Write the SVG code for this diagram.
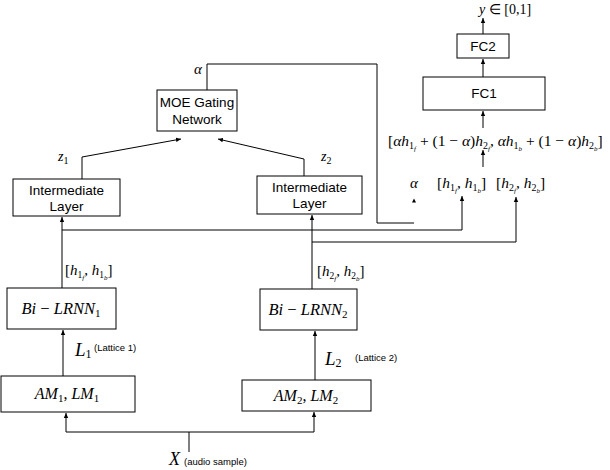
<svg xmlns="http://www.w3.org/2000/svg" width="610" height="470" viewBox="0 0 610 470">
<defs>
<marker id="ah" markerWidth="6" markerHeight="6" refX="5" refY="3" orient="auto" markerUnits="userSpaceOnUse">
<path d="M0,0.8 L5,3 L0,5.2 Z" fill="#000"/>
</marker>
<style>
.box{fill:#fff;stroke:#000;stroke-width:1}
.ln{fill:none;stroke:#000;stroke-width:1}
.sans{font-family:"Liberation Sans",Arial,sans-serif;font-size:13.5px;fill:#000}
.small{font-family:"Liberation Sans",Arial,sans-serif;font-size:9.5px;fill:#000}
.m{font-family:"Liberation Serif","Times New Roman",serif;font-style:italic;fill:#000}
.r{font-style:normal}
</style>
</defs>
<rect width="610" height="470" fill="#fff"/>

<g id="connectors">
<path class="ln" d="M189,452 V432"/>
<path class="ln" d="M66,432 H314"/>
<path class="ln" d="M66,432 V413" marker-end="url(#ah)"/>
<path class="ln" d="M314,432 V412" marker-end="url(#ah)"/>
<path class="ln" d="M63,376 V330" marker-end="url(#ah)"/>
<path class="ln" d="M315,380 V331" marker-end="url(#ah)"/>
<path class="ln" d="M62,288 V217" marker-end="url(#ah)"/>
<path class="ln" d="M312,289 V215" marker-end="url(#ah)"/>
<path class="ln" d="M62,230 H462 V196" marker-end="url(#ah)"/>
<path class="ln" d="M312,242 H516 V197" marker-end="url(#ah)"/>
<path class="ln" d="M82,179 V157 L181,139" marker-end="url(#ah)"/>
<path class="ln" d="M304,176 V159 L218,139" marker-end="url(#ah)"/>
<path class="ln" d="M207,90 V64 H377 V223 H414"/>
<path d="M412,202.5 L414,198.5 L416,202.5 Z" fill="#000"/>
<path class="ln" d="M483,167 V150" marker-end="url(#ah)"/>
<path class="ln" d="M483,128 V111" marker-end="url(#ah)"/>
<path class="ln" d="M483,77 V59" marker-end="url(#ah)"/>
<path class="ln" d="M483,34 V18" marker-end="url(#ah)"/>
</g>

<g id="moe">
<rect class="box" x="157" y="90" width="80" height="41"/>
<text class="sans" x="197" y="107" text-anchor="middle">MOE Gating</text>
<text class="sans" x="197" y="124" text-anchor="middle">Network</text>
</g>
<g id="alpha-label"><text class="m" x="194" y="74" font-size="15">α</text></g>

<g id="il1">
<rect class="box" x="13" y="179" width="107" height="37"/>
<text class="sans" x="66.5" y="195" text-anchor="middle">Intermediate</text>
<text class="sans" x="66.5" y="211" text-anchor="middle">Layer</text>
</g>
<g id="il2">
<rect class="box" x="257" y="176" width="105" height="38"/>
<text class="sans" x="309.5" y="192" text-anchor="middle">Intermediate</text>
<text class="sans" x="309.5" y="208" text-anchor="middle">Layer</text>
</g>
<g id="z1"><text class="m" x="58" y="161" font-size="14">z<tspan font-size="10" dy="3" class="r">1</tspan></text></g>
<g id="z2"><text class="m" x="321" y="161" font-size="14">z<tspan font-size="10" dy="3" class="r">2</tspan></text></g>

<g id="bilrnn1">
<rect class="box" x="7" y="288" width="109" height="41"/>
<text class="m" x="61" y="314" font-size="16.5" text-anchor="middle">Bi <tspan class="r">−</tspan> LRNN<tspan font-size="11" dy="3" class="r">1</tspan></text>
</g>
<g id="bilrnn2">
<rect class="box" x="260" y="289" width="97" height="41"/>
<text class="m" x="308" y="315" font-size="16.5" text-anchor="middle">Bi <tspan class="r">−</tspan> LRNN<tspan font-size="11" dy="3" class="r">2</tspan></text>
</g>
<g id="h1-left"><text class="m" x="65" y="275" font-size="15"><tspan class="r">[</tspan>h<tspan font-size="9.5" dy="3" class="r">1</tspan><tspan font-size="7" dy="2">f</tspan><tspan dy="-5" class="r">, </tspan>h<tspan font-size="9.5" dy="3" class="r">1</tspan><tspan font-size="7" dy="2">b</tspan><tspan dy="-5" class="r">]</tspan></text></g>
<g id="h2-left"><text class="m" x="317" y="276" font-size="15"><tspan class="r">[</tspan>h<tspan font-size="9.5" dy="3" class="r">2</tspan><tspan font-size="7" dy="2">f</tspan><tspan dy="-5" class="r">, </tspan>h<tspan font-size="9.5" dy="3" class="r">2</tspan><tspan font-size="7" dy="2">b</tspan><tspan dy="-5" class="r">]</tspan></text></g>

<g id="am1">
<rect class="box" x="1" y="376" width="134" height="36"/>
<text class="m" x="67" y="399" font-size="16" text-anchor="middle">AM<tspan font-size="11" dy="3" class="r">1</tspan><tspan dy="-3" class="r">, </tspan>LM<tspan font-size="11" dy="3" class="r">1</tspan></text>
</g>
<g id="am2">
<rect class="box" x="242" y="380" width="129" height="31"/>
<text class="m" x="306" y="401" font-size="16" text-anchor="middle">AM<tspan font-size="11" dy="3" class="r">2</tspan><tspan dy="-3" class="r">, </tspan>LM<tspan font-size="11" dy="3" class="r">2</tspan></text>
</g>
<g id="l1"><text class="m" x="75" y="356" font-size="19">L<tspan font-size="12" dy="2" class="r">1</tspan></text><text class="small" x="94" y="351">(Lattice 1)</text></g>
<g id="l2"><text class="m" x="325" y="365" font-size="19">L<tspan font-size="12" dy="2" class="r">2</tspan></text><text class="small" x="355" y="361">(Lattice 2)</text></g>
<g id="x"><text class="m" x="169" y="465" font-size="18">X</text><text class="small" x="184" y="465">(audio sample)</text></g>

<g id="fc2">
<rect class="box" x="457" y="34" width="52" height="24"/>
<text class="sans" x="483" y="51" text-anchor="middle">FC2</text>
</g>
<g id="fc1">
<rect class="box" x="423" y="77" width="122" height="33"/>
<text class="sans" x="484" y="98" text-anchor="middle">FC1</text>
</g>
<g id="y-out"><text class="m" x="479" y="14" font-size="14">y <tspan class="r">∈ [0,1]</tspan></text></g>
<g id="formula"><text class="m" x="388" y="146" font-size="15.5"><tspan class="r">[</tspan>αh<tspan font-size="10" dy="3" class="r">1</tspan><tspan font-size="7" dy="2">f</tspan><tspan dy="-5" class="r"> + (1 − </tspan>α<tspan class="r">)</tspan>h<tspan font-size="10" dy="3" class="r">2</tspan><tspan font-size="7" dy="2">f</tspan><tspan dy="-5" class="r">, </tspan>αh<tspan font-size="10" dy="3" class="r">1</tspan><tspan font-size="7" dy="2">b</tspan><tspan dy="-5" class="r"> + (1 − </tspan>α<tspan class="r">)</tspan>h<tspan font-size="10" dy="3" class="r">2</tspan><tspan font-size="7" dy="2">b</tspan><tspan dy="-5" class="r">]</tspan></text></g>
<g id="row-labels">
<text class="m" x="410" y="188" font-size="15">α</text>
<text class="m" x="437" y="188" font-size="15.5"><tspan class="r">[</tspan>h<tspan font-size="10" dy="3" class="r">1</tspan><tspan font-size="7" dy="2">f</tspan><tspan dy="-5" class="r">, </tspan>h<tspan font-size="10" dy="3" class="r">1</tspan><tspan font-size="7" dy="2">b</tspan><tspan dy="-5" class="r">]</tspan></text>
<text class="m" x="496" y="188" font-size="15.5"><tspan class="r">[</tspan>h<tspan font-size="10" dy="3" class="r">2</tspan><tspan font-size="7" dy="2">f</tspan><tspan dy="-5" class="r">, </tspan>h<tspan font-size="10" dy="3" class="r">2</tspan><tspan font-size="7" dy="2">b</tspan><tspan dy="-5" class="r">]</tspan></text>
</g>
</svg>
